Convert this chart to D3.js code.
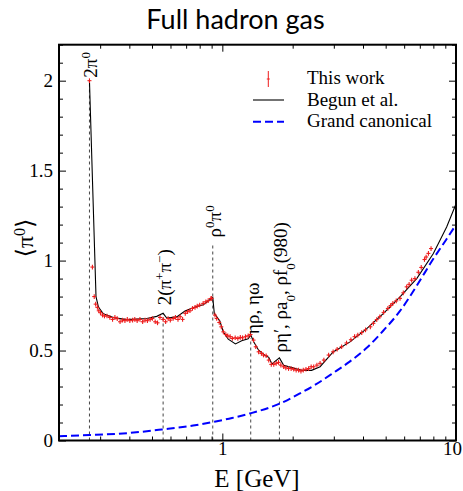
<!DOCTYPE html>
<html>
<head>
<meta charset="utf-8">
<script src="https://cdn.jsdelivr.net/npm/d3@7"></script>
<style>
  html, body { margin: 0; padding: 0; background: #fff; }
  svg { display: block; }
</style>
</head>
<body>
<svg id="chart" width="463" height="491"></svg>
<script>
// Mean number of neutral pions <pi0> versus energy E for the full hadron gas.

// "This work": energy [GeV] and <pi0>
const workE = [0.27,0.278,0.283,0.287,0.292,0.296,0.301,0.307,0.313,0.321,0.330,0.339,0.347,0.355,0.365,0.374,0.383,0.392,0.402,0.413,0.422,0.432,0.444,0.456,0.467,0.478,0.491,0.502,0.516,0.528,0.541,0.558,0.572,0.586,0.599,0.616,0.63,0.646,0.66,0.676,0.694,0.71,0.727,0.745,0.764,0.781,0.80,0.828,0.85,0.87,0.893,0.90,
  0.93,0.946,0.97,0.99,1.01,1.035,1.055,1.08,1.104,1.135,1.165,1.194,1.22,1.256,1.29,1.32,1.36,1.39,1.43,1.47,1.50,1.54,1.58,1.62,1.66,1.70,1.74,1.78,1.83,1.87,1.92,1.97,2.02,2.07,2.12,2.17,2.22,2.28,2.34,2.40,2.46,2.54,2.62,2.72,2.85,2.98,3.1,3.24,3.4,3.55,3.68,3.80,3.95,4.1,4.30,4.43,4.58,4.72,4.9,5.11,5.25,5.37,5.55,5.76,5.95,6.15,6.3,6.46,6.67,6.9,7.1,7.33,7.45,7.62,7.82];
const workPi0 = [2.0,0.964,0.80,0.758,0.74,0.721,0.71,0.697,0.692,0.692,0.684,0.673,0.684,0.677,0.66,0.669,0.666,0.673,0.666,0.669,0.673,0.666,0.673,0.66,0.669,0.666,0.673,0.678,0.66,0.654,0.684,0.673,0.66,0.678,0.669,0.678,0.684,0.673,0.688,0.673,0.707,0.716,0.721,0.734,0.74,0.747,0.753,0.762,0.771,0.777,0.789,0.79,
  0.697,0.678,0.656,0.632,0.604,0.589,0.582,0.577,0.567,0.571,0.567,0.573,0.571,0.577,0.582,0.589,0.558,0.521,0.493,0.484,0.475,0.471,0.447,0.423,0.423,0.429,0.434,0.419,0.41,0.404,0.40,0.40,0.396,0.391,0.391,0.386,0.391,0.396,0.40,0.41,0.41,0.419,0.429,0.447,0.475,0.493,0.507,0.521,0.542,0.56,0.577,0.586,0.60,0.615,0.632,0.651,0.672,0.688,0.712,0.734,0.75,0.762,0.776,0.79,0.821,0.854,0.868,0.891,0.90,0.935,0.962,1.006,1.02,1.04,1.067];
const workErr = 0.013;

// "Begun et al."
const begunE = [0.27,0.288,0.295,0.309,0.342,0.39,0.475,0.524,0.558,0.578,0.638,0.692,0.764,0.829,0.91,0.924,0.975,1.01,1.06,1.138,1.21,1.29,1.323,1.36,1.43,1.52,1.58,1.63,1.755,1.83,2.19,2.41,2.62,2.98,3.52,4.15,4.88,5.76,6.79,8.0,9.12,10];
const begunPi0 = [2.0,0.80,0.742,0.705,0.683,0.672,0.678,0.69,0.707,0.681,0.687,0.72,0.742,0.755,0.795,0.705,0.665,0.603,0.563,0.537,0.555,0.565,0.587,0.55,0.502,0.474,0.462,0.426,0.459,0.418,0.39,0.39,0.41,0.492,0.548,0.622,0.705,0.798,0.90,1.039,1.187,1.315];

// "Grand canonical"
const gcE = [0.2,0.27,0.4,0.55,0.75,0.91,1.1,1.31,1.76,2.15,2.5,2.98,3.52,4.15,4.88,5.76,6.79,8.0,9.12,10];
const gcPi0 = [0.024,0.03,0.042,0.061,0.083,0.103,0.125,0.15,0.205,0.262,0.31,0.375,0.44,0.515,0.61,0.72,0.86,1.01,1.12,1.2];

// Channel thresholds [GeV], their labels, and the <pi0> value where each marker line ends
const thresholdE = [0.27, 0.558, 0.91, 1.323, 1.755];
const thresholdTop = [2.0, 0.707, 1.09, 0.57, 0.40];
const thresholdLabels = [
  [["2π", ""], ["0", "sup"]],
  [["2(π", ""], ["+", "sup"], ["π", ""], ["−", "sup"], [")", ""]],
  [["ρ", ""], ["0", "sup"], ["π", ""], ["0", "sup"]],
  [["ηρ, ηω", ""]],
  [["ρη′, ρa", ""], ["0", "sub"], [", ρf", ""], ["0", "sub"], ["(980)", ""]]
];
// space left between each marker line's end and its label, px
const labelGap = [3, 8, 7, 4, 16];

// Axis ticks and labels
const xMajorTicks = [1, 10];
const xTickLabels = ["1", "10"];
const yMajorTicks = [0, 0.5, 1, 1.5, 2];
const yTickLabels = ["0", "0.5", "1", "1.5", "2"];

const legendLabels = ["This work", "Begun et al.", "Grand canonical"];

const SERIF = "'Liberation Serif', Tinos, 'Times New Roman', 'DejaVu Serif', serif";

const svg = d3.select("#chart");
const frameL = 59, frameR = 456, frameT = 44.7, frameB = 440.5;

const x = d3.scaleLog().domain([0.2, 10]).range([frameL, frameR]);
const y = d3.scaleLinear().domain([0, 2.2]).range([frameB, frameT]);

const plot = svg.append("g");

// Clip drawing to the frame
svg.append("defs").append("clipPath").attr("id", "frame")
  .append("rect").attr("x", frameL).attr("y", frameT).attr("width", frameR - frameL).attr("height", frameB - frameT);

// Threshold marker lines
thresholdE.forEach((e, i) => {
  plot.append("line")
    .attr("x1", x(e)).attr("x2", x(e))
    .attr("y1", y(0)).attr("y2", y(thresholdTop[i]))
    .attr("stroke", "#444").attr("stroke-width", 1)
    .attr("stroke-dasharray", "3,3");
});

// Grand canonical
const gcLine = d3.line().x((d, i) => x(gcE[i])).y(d => y(d)).curve(d3.curveMonotoneX);
plot.append("path").attr("clip-path", "url(#frame)")
  .attr("d", gcLine(gcPi0))
  .attr("fill", "none").attr("stroke", "#0000ff").attr("stroke-width", 2)
  .attr("stroke-dasharray", "8,4");

// Begun et al.
const begunLine = d3.line().x((d, i) => x(begunE[i])).y(d => y(d));
plot.append("path").attr("clip-path", "url(#frame)")
  .attr("d", begunLine(begunPi0))
  .attr("fill", "none").attr("stroke", "#000").attr("stroke-width", 1.1);

// This work: points with error bars
const pts = plot.append("g").attr("stroke", "#ee1c1c").attr("stroke-width", 1.1);
workE.forEach((e, i) => {
  const cx = x(e), v = workPi0[i];
  pts.append("line").attr("x1", cx).attr("x2", cx)
    .attr("y1", y(v - workErr)).attr("y2", y(v + workErr));
  pts.append("line").attr("x1", cx - 2).attr("x2", cx + 2)
    .attr("y1", y(v)).attr("y2", y(v));
});

// Threshold labels, rotated
thresholdE.forEach((e, i) => {
  const t = plot.append("text").style("font-family", SERIF)
    .attr("font-size", 19)
    .attr("transform", `translate(${x(e) + 8},${y(thresholdTop[i]) - labelGap[i]}) rotate(-90)`);
  thresholdLabels[i].forEach(([s, kind]) => {
    const ts = t.append("tspan").text(s);
    if (kind === "sup") ts.attr("baseline-shift", "super").attr("font-size", 13);
    if (kind === "sub") ts.attr("baseline-shift", "sub").attr("font-size", 13);
  });
});

// Axes: minor and major ticks on all four sides, pointing inward
function ticks(axisGen, scale, values, size, pos, labels) {
  const g = svg.append("g").attr("transform", pos)
    .call(axisGen(scale).tickValues(values).tickSize(size).tickSizeOuter(0)
      .tickFormat(labels ? (d, i) => labels[i] : ""));
  g.attr("font-family", null);
  g.select(".domain").remove();
  g.selectAll(".tick line").attr("stroke", "#000").attr("stroke-width", 1);
  g.selectAll("text").style("font-family", SERIF).attr("font-size", 19).attr("fill", "#000");
  return g;
}
const xMinor = x.ticks().filter(v => !xMajorTicks.includes(v));
const yMinor = d3.range(0, 2.21, 0.1).filter(v => Math.abs(v * 2 - Math.round(v * 2)) > 1e-6);

ticks(d3.axisBottom, x, xMinor, -4, `translate(0,${frameB})`);
const xb = ticks(d3.axisBottom, x, xMajorTicks, -7, `translate(0,${frameB})`, xTickLabels);
xb.selectAll("text").attr("y", 14.5).attr("dy", "0");
xb.selectAll(".tick").filter(d => d === 10).select("text").attr("dx", -4);
ticks(d3.axisTop, x, xMinor, -4, `translate(0,${frameT})`);
ticks(d3.axisTop, x, xMajorTicks, -7, `translate(0,${frameT})`);

ticks(d3.axisLeft, y, yMinor, -4, `translate(${frameL},0)`);
const yl = ticks(d3.axisLeft, y, yMajorTicks, -7, `translate(${frameL},0)`, yTickLabels);
yl.selectAll("text").attr("x", -6);
ticks(d3.axisRight, y, yMinor, -4, `translate(${frameR},0)`);
ticks(d3.axisRight, y, yMajorTicks, -7, `translate(${frameR},0)`);

// Frame
svg.append("rect").attr("x", frameL).attr("y", frameT)
  .attr("width", frameR - frameL).attr("height", frameB - frameT)
  .attr("fill", "none").attr("stroke", "#000").attr("stroke-width", 2);

// Legend
const lg = svg.append("g");
lg.append("line").attr("x1", 268.3).attr("x2", 268.3).attr("y1", 71).attr("y2", 87)
  .attr("stroke", "#ee1c1c").attr("stroke-width", 1);
lg.append("line").attr("x1", 266.8).attr("x2", 269.8).attr("y1", 79).attr("y2", 79)
  .attr("stroke", "#ee1c1c").attr("stroke-width", 1);
lg.append("line").attr("x1", 253).attr("x2", 284).attr("y1", 100).attr("y2", 100)
  .attr("stroke", "#000").attr("stroke-width", 1.1);
lg.append("line").attr("x1", 253).attr("x2", 284).attr("y1", 121.7).attr("y2", 121.7)
  .attr("stroke", "#0000ff").attr("stroke-width", 2).attr("stroke-dasharray", "8,4");
legendLabels.forEach((s, i) => {
  lg.append("text").style("font-family", SERIF).attr("font-size", 19)
    .attr("x", 307).attr("y", [84.3, 105.7, 127.3][i]).text(s);
});

// Title and axis titles
svg.append("text").attr("x", 235.5).attr("y", 29.3).attr("text-anchor", "middle")
  .style("font-family", "Lato, 'DejaVu Sans', sans-serif").attr("font-size", 27)
  .text("Full hadron gas");

svg.append("text").style("font-family", SERIF).attr("x", 257).attr("y", 486.5)
  .attr("text-anchor", "middle").attr("font-size", 25).text("E [GeV]");

const yt = svg.append("text").style("font-family", SERIF).attr("font-size", 24)
  .attr("text-anchor", "middle")
  .attr("transform", "translate(33,238) rotate(-90)");
yt.append("tspan").text("⟨π");
yt.append("tspan").attr("baseline-shift", "super").attr("font-size", 16).text("0");
yt.append("tspan").text("⟩");
</script>
</body>
</html>
